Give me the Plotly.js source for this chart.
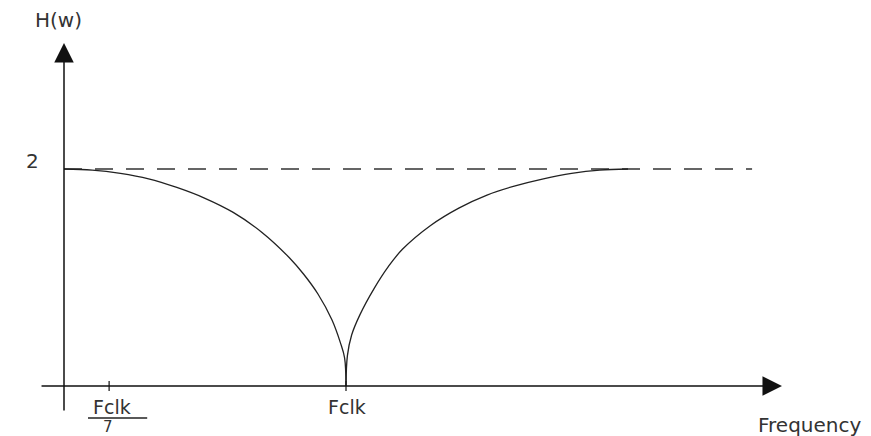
<!DOCTYPE html>
<html>
<head>
<meta charset="utf-8">
<script src="https://cdn.plot.ly/plotly-3.0.1.min.js"></script>
<style>html,body{margin:0;padding:0;background:#fff;}#chart{width:871px;height:436px;}</style>
</head>
<body>
<div id="chart"></div>
<script>
// Frequency in units of Fclk, magnitude H(w)
const freqLeft  = [0, 0.1, 0.2, 0.3, 0.4, 0.5, 0.6, 0.7, 0.8, 0.85, 0.9, 0.95, 0.98, 0.995, 1.0];
const magLeft   = [2.0, 1.99, 1.96, 1.91, 1.83, 1.73, 1.60, 1.42, 1.18, 1.03, 0.85, 0.61, 0.40, 0.26, 0.0];
const freqRight = [1.0, 1.005, 1.02, 1.05, 1.1, 1.15, 1.2, 1.3, 1.4, 1.5, 1.6, 1.7, 1.8, 1.9, 2.0];
const magRight  = [0.0, 0.28, 0.47, 0.66, 0.90, 1.10, 1.26, 1.48, 1.64, 1.76, 1.845, 1.91, 1.96, 1.99, 2.0];
const refFreq   = [0, 2.44];
const refLevel  = [2, 2];
const tickFreqs = [0.16, 1.0];
const tickLabels = ['Fclk', 'Fclk'];
const yLabel = '2';
const xTitle = 'Frequency';
const yTitle = 'H(w)';

const ink = '#222';
const textColor = '#333';
const fam = 'DejaVu Sans, Arial, sans-serif';
const font = {family: fam, size: 20, color: textColor};
const tickFont = {family: fam, size: 19, color: textColor};

const traces = [
  {x: refFreq, y: refLevel, mode: 'lines', line: {color: '#333', width: 1.4, dash: '18px,13px'}, hoverinfo: 'skip'},
  {x: freqLeft, y: magLeft, mode: 'lines', line: {color: ink, width: 1.3, shape: 'spline', smoothing: 1}, hoverinfo: 'skip'},
  {x: freqRight, y: magRight, mode: 'lines', line: {color: ink, width: 1.3, shape: 'spline', smoothing: 1}, hoverinfo: 'skip'}
];

const shapes = tickFreqs.map(f => ({type: 'line', xref: 'x', yref: 'y', x0: f, x1: f, y0: -0.046, y1: 0.046, line: {color: ink, width: 1.3}}));
// fraction bar under first tick label
shapes.push({type: 'line', xref: 'x', yref: 'paper', x0: 0.085, x1: 0.295, y0: 1 - 418/436, y1: 1 - 418/436, line: {color: '#222', width: 1.5}});

const annotations = [
  // x axis with arrow
  {x: 2.546, y: 0, ax: -0.085, ay: 0, axref: 'x', ayref: 'y', xref: 'x', yref: 'y', text: '', showarrow: true, arrowhead: 2, arrowsize: 2.6, arrowwidth: 1.5, arrowcolor: '#111', standoff: 0},
  // y axis with arrow
  {x: 0, y: 3.161, ax: 0, ay: -0.24, axref: 'x', ayref: 'y', xref: 'x', yref: 'y', text: '', showarrow: true, arrowhead: 2, arrowsize: 2.6, arrowwidth: 1.5, arrowcolor: '#111', standoff: 0},
  {x: 0, y: 2, xref: 'x', yref: 'y', text: yLabel, showarrow: false, xshift: -32, yshift: 8, xanchor: 'center', yanchor: 'middle', font: font},
  {x: 0, y: 1 - 20/436, xref: 'x', yref: 'paper', text: yTitle, showarrow: false, xshift: -6, xanchor: 'center', yanchor: 'middle', font: font},
  {x: 2.645, y: 1 - 425/436, xref: 'x', yref: 'paper', text: xTitle, showarrow: false, xanchor: 'center', yanchor: 'middle', font: font},
  {x: tickFreqs[0], y: 1 - 406.5/436, xref: 'x', yref: 'paper', text: tickLabels[0], showarrow: false, xshift: 3, xanchor: 'center', yanchor: 'middle', font: tickFont},
  {x: tickFreqs[1], y: 1 - 406.5/436, xref: 'x', yref: 'paper', text: tickLabels[1], showarrow: false, xshift: 1, xanchor: 'center', yanchor: 'middle', font: tickFont},
  {x: tickFreqs[0], y: 1 - 427/436, xref: 'x', yref: 'paper', text: '7', showarrow: false, xshift: -1, xanchor: 'center', yanchor: 'middle', borderpad: 0, font: {family: fam, size: 15, color: textColor}}
];

const layout = {
  width: 871, height: 436,
  margin: {l: 0, r: 0, t: 0, b: 0},
  paper_bgcolor: '#fff', plot_bgcolor: '#fff',
  showlegend: false,
  xaxis: {range: [-64/282, (871-64)/282], visible: false, fixedrange: true},
  yaxis: {range: [-50/108.5, 386/108.5], visible: false, fixedrange: true},
  shapes: shapes,
  annotations: annotations
};

Plotly.newPlot('chart', traces, layout, {displayModeBar: false, staticPlot: true});
</script>
</body>
</html>
